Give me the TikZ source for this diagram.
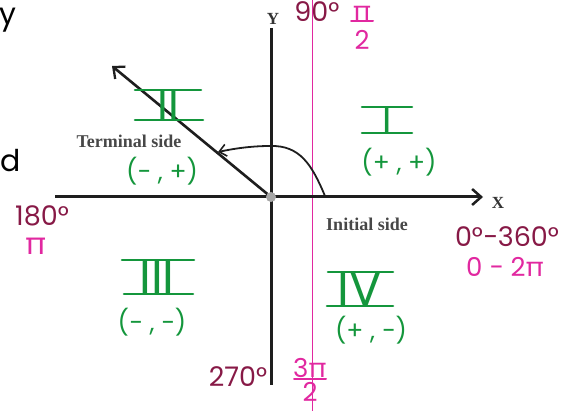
\documentclass[tikz,border=0pt]{standalone}
\usepackage{fontspec}
\setmainfont{Liberation Serif}
\newfontfamily\hand{Poppins}
\usetikzlibrary{arrows.meta,calc}
\definecolor{hgreen}{RGB}{20,150,60}
\definecolor{maroon}{RGB}{135,25,70}
\definecolor{mag}{RGB}{225,40,160}
\definecolor{axisc}{RGB}{30,30,30}
\tikzset{
  axisline/.style={draw=axisc,line width=3pt},
  printed/.style={font=\bfseries\fontsize{18}{18}\selectfont,text=black!72,inner sep=0pt},
  greenlbl/.style={text=hgreen,font=\hand\fontsize{25}{25}\selectfont,inner sep=0pt},
  roman/.style={text=hgreen,font=\hand\fontsize{#1}{#1}\selectfont,inner sep=0pt},
  rbar/.style={draw=hgreen,line width=2.6pt,line cap=round},
  deg/.style={text=maroon,font=\hand\fontsize{27}{27}\selectfont,inner sep=0pt},
  rad/.style={text=mag,font=\hand\fontsize{26}{26}\selectfont,inner sep=0pt},
  fracbar/.style={draw=mag,line width=2pt,line cap=round},
  side/.style={text=black,font=\hand\fontsize{30}{30}\selectfont,inner sep=0pt}
}
\begin{document}
\begin{tikzpicture}[x=1pt,y=-1pt]
\useasboundingbox (0,0) rectangle (565,411);
% left text
\node[side,anchor=west] (ly) at (-1,20) {y};
\node[side,anchor=west] (ld) at (0,161) {d};
% magenta line
\coordinate (mt) at (312,0);
\coordinate (mb) at (312,411);
\draw[mag,line width=0.8pt] (mt) -- (mb);
% axes
\coordinate (O) at (271,197);
\coordinate (xl) at (55,197);
\coordinate (xr) at (483,197);
\coordinate (yt) at (271,28);
\coordinate (yb) at (271,385);
\draw[axisline] (yt) -- (yb);
\draw[axisline,-{Straight Barb[length=9pt,width=16pt,line width=2.5pt]}] (xl) -- (xr);
\node[font=\bfseries\fontsize{17}{17}\selectfont,text=black!80] (Y) at (273,19) {Y};
\node[font=\bfseries\fontsize{17}{17}\selectfont,text=black!80] (X) at (498,203) {X};
% terminal side
\coordinate (T) at (112,66);
\draw[draw=axisc,line width=2.6pt,-{Straight Barb[length=9pt,width=16pt,line width=2.3pt]}] (O) -- (T);
\fill[gray!70] (O) circle (5);
% arc
\coordinate (a0) at (325,196);
\coordinate (a1) at (218,152);
\draw[axisc,line width=1.8pt,-{Straight Barb[length=7pt,width=12pt,line width=1.6pt]}] (a0) .. controls (312,165) and (300,145) .. (270,146) .. controls (250,146) and (232,149) .. (a1);
% printed labels
\node[printed] (term) at (129,141) {Terminal side};
\node[printed] (init) at (367,224) {Initial side};
% roman numerals
\node[roman=38] (q1) at (387,120) {I};
\draw[rbar] ($(q1)+(-25,-13)$) -- ($(q1)+(25,-13)$);
\draw[rbar] ($(q1)+(-25,13)$) -- ($(q1)+(25,13)$);
\node[roman=44] (q2) at (168,105) {II};
\draw[rbar] ($(q2)+(-33,-15)$) -- ($(q2)+(33,-15)$);
\draw[rbar] ($(q2)+(-33,15)$) -- ($(q2)+(35,15)$);
\node[roman=48] (q3) at (157,277) {III};
\draw[rbar] ($(q3)+(-35,-17)$) -- ($(q3)+(37,-17)$);
\draw[rbar] ($(q3)+(-33,17)$) -- ($(q3)+(36,17)$);
\node[roman=48] (q4) at (360,289) {IV};
\draw[rbar] ($(q4)+(-32,-17)$) -- ($(q4)+(33,-17)$);
\draw[rbar] ($(q4)+(-33,17)$) -- ($(q4)+(33,17)$);
% signs
\node[greenlbl] (s1) at (399,162) {(+ , +)};
\node[greenlbl] (s2) at (162,171) {(− , +)};
\node[greenlbl] (s3) at (152,322) {(− , −)};
\node[greenlbl] (s4) at (371,330) {(+ , −)};
% angle labels
\node[deg] (d90) at (317,12) {90°};
\node[rad] (r90n) at (362,13) {π};
\node[rad] (r90d) at (362,40) {2};
\draw[fracbar] ($(r90n.south)+(-11,1)$) -- ($(r90n.south)+(11,1)$);
\node[deg] (d180) at (42,216) {180°};
\node[rad,font=\hand\fontsize{30}{30}\selectfont] (r180) at (36,246) {π};
\node[deg] (d0) at (507,237) {0°−360°};
\node[rad] (r0) at (505,267) {0 − 2π};
\node[deg] (d270) at (238,377) {270°};
\node[rad] (r270n) at (310,368) {3π};
\node[rad] (r270d) at (310,392) {2};
\draw[fracbar] ($(r270n.south)+(-16,1)$) -- ($(r270n.south)+(16,1)$);
\end{tikzpicture}
\end{document}
